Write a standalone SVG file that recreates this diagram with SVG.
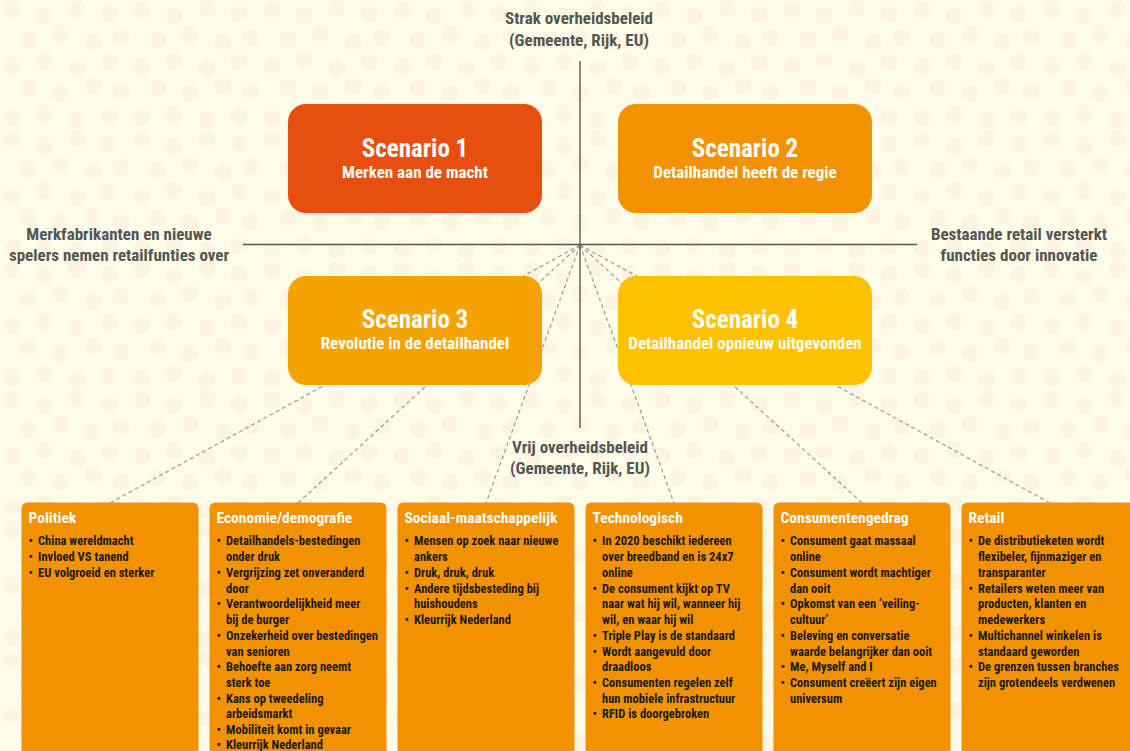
<svg xmlns="http://www.w3.org/2000/svg" width="1130" height="751" viewBox="0 0 1130 751">
<defs>
<pattern id="dots" x="0" y="0" width="130" height="130" patternUnits="userSpaceOnUse">
<rect width="130" height="130" fill="#FFFCEA"/>
<g fill="#FDF4E2">
<circle cx="12" cy="10" r="8.5"/><circle cx="44" cy="16" r="8.5"/><circle cx="77" cy="9" r="8.5"/><circle cx="109" cy="14" r="8.5"/>
<circle cx="28" cy="40" r="8.5"/><circle cx="60" cy="34" r="8.5"/><circle cx="93" cy="42" r="8.5"/><circle cx="121" cy="37" r="8.5"/>
<circle cx="12" cy="66" r="8.5"/><circle cx="44" cy="61" r="8.5"/><circle cx="77" cy="68" r="8.5"/><circle cx="109" cy="62" r="8.5"/>
<circle cx="28" cy="88" r="8.5"/><circle cx="60" cy="93" r="8.5"/><circle cx="93" cy="86" r="8.5"/><circle cx="121" cy="92" r="8.5"/>
<circle cx="12" cy="118" r="8.5"/><circle cx="44" cy="114" r="8.5"/><circle cx="77" cy="120" r="8.5"/><circle cx="109" cy="116" r="8.5"/>
</g>
</pattern>
<style>
text{font-family:"Liberation Sans Narrow","Roboto Condensed","DejaVu Sans Condensed","Liberation Sans",sans-serif;font-weight:bold}
.axis{stroke:#555;stroke-width:1.4;fill:none}
.dash{stroke:#999;stroke-width:1.2;stroke-dasharray:4 3;fill:none}
.lbl{fill:#555;font-size:17px;text-anchor:middle}
.st{fill:#fff;font-size:25px;text-anchor:middle}
.ss{fill:#fff;font-size:17px;text-anchor:middle}
.box{fill:#F39200}
.bt{fill:#fff;font-size:15.5px}
.bl{fill:#1a1a1a;font-size:12.5px}
</style>
</defs>
<rect width="1130" height="751" fill="url(#dots)"/>

<g id="connectors">
<line class="dash" x1="580" y1="245" x2="110" y2="503"/>
<line class="dash" x1="580" y1="245" x2="298" y2="503"/>
<line class="dash" x1="580" y1="245" x2="486" y2="503"/>
<line class="dash" x1="580" y1="245" x2="674" y2="503"/>
<line class="dash" x1="580" y1="245" x2="862" y2="503"/>
<line class="dash" x1="580" y1="245" x2="1050" y2="503"/>
<line class="axis" x1="580" y1="61" x2="580" y2="428"/>
<line class="axis" x1="243" y1="244.5" x2="917" y2="244.5"/>
</g>

<g id="axis-labels">
<text class="lbl" x="579" y="24">Strak overheidsbeleid</text>
<text class="lbl" x="579" y="46">(Gemeente, Rijk, EU)</text>
<text class="lbl" x="580" y="453">Vrij overheidsbeleid</text>
<text class="lbl" x="580" y="474">(Gemeente, Rijk, EU)</text>
<text class="lbl" x="119" y="240">Merkfabrikanten en nieuwe</text>
<text class="lbl" x="119" y="261">spelers nemen retailfunties over</text>
<text class="lbl" x="1019" y="240">Bestaande retail versterkt</text>
<text class="lbl" x="1019" y="261">functies door innovatie</text>
</g>

<g id="scenario1">
<rect x="288" y="104" width="254" height="109" rx="18" fill="#E84E0F"/>
<text class="st" x="415" y="157">Scenario 1</text>
<text class="ss" x="415" y="178">Merken aan de macht</text>
</g>
<g id="scenario2">
<rect x="618" y="104" width="254" height="109" rx="18" fill="#F39200"/>
<text class="st" x="745" y="157">Scenario 2</text>
<text class="ss" x="745" y="178">Detailhandel heeft de regie</text>
</g>
<g id="scenario3">
<rect x="288" y="276" width="254" height="109" rx="18" fill="#F5A300"/>
<text class="st" x="415" y="328">Scenario 3</text>
<text class="ss" x="415" y="349">Revolutie in de detailhandel</text>
</g>
<g id="scenario4">
<rect x="618" y="276" width="254" height="109" rx="18" fill="#FFC200"/>
<text class="st" x="745" y="328">Scenario 4</text>
<text class="ss" x="745" y="349">Detailhandel opnieuw uitgevonden</text>
</g>

<g id="politiek">
<rect class="box" x="21.5" y="502.5" width="177" height="260" rx="6"/>
<text class="bt" x="28.5" y="523">Politiek</text>
<text class="bl"><tspan x="28.5" y="545">•</tspan><tspan x="38" y="545">China wereldmacht</tspan><tspan x="28.5" y="561">•</tspan><tspan x="38" y="561">Invloed VS tanend</tspan><tspan x="28.5" y="576.5">•</tspan><tspan x="38" y="576.5">EU volgroeid en sterker</tspan></text>
</g>

<g id="economie">
<rect class="box" x="209.5" y="502.5" width="177" height="260" rx="6"/>
<text class="bt" x="216.5" y="523">Economie/demografie</text>
<text class="bl">
<tspan x="216.5" y="545">•</tspan><tspan x="226" y="545">Detailhandels-bestedingen</tspan>
<tspan x="226" y="561">onder druk</tspan>
<tspan x="216.5" y="576.5">•</tspan><tspan x="226" y="576.5">Vergrijzing zet onveranderd</tspan>
<tspan x="226" y="592.5">door</tspan>
<tspan x="216.5" y="608">•</tspan><tspan x="226" y="608">Verantwoordelijkheid meer</tspan>
<tspan x="226" y="624">bij de burger</tspan>
<tspan x="216.5" y="639.5">•</tspan><tspan x="226" y="639.5">Onzekerheid over bestedingen</tspan>
<tspan x="226" y="655.5">van senioren</tspan>
<tspan x="216.5" y="671">•</tspan><tspan x="226" y="671">Behoefte aan zorg neemt</tspan>
<tspan x="226" y="687">sterk toe</tspan>
<tspan x="216.5" y="702.5">•</tspan><tspan x="226" y="702.5">Kans op tweedeling</tspan>
<tspan x="226" y="718">arbeidsmarkt</tspan>
<tspan x="216.5" y="733.5">•</tspan><tspan x="226" y="733.5">Mobiliteit komt in gevaar</tspan>
<tspan x="216.5" y="749">•</tspan><tspan x="226" y="749">Kleurrijk Nederland</tspan>
</text>
</g>

<g id="sociaal">
<rect class="box" x="397.5" y="502.5" width="177" height="260" rx="6"/>
<text class="bt" x="404.5" y="523">Sociaal-maatschappelijk</text>
<text class="bl">
<tspan x="404.5" y="545">•</tspan><tspan x="414" y="545">Mensen op zoek naar nieuwe</tspan>
<tspan x="414" y="561">ankers</tspan>
<tspan x="404.5" y="576.5">•</tspan><tspan x="414" y="576.5">Druk, druk, druk</tspan>
<tspan x="404.5" y="592.5">•</tspan><tspan x="414" y="592.5">Andere tijdsbesteding bij</tspan>
<tspan x="414" y="608">huishoudens</tspan>
<tspan x="404.5" y="624">•</tspan><tspan x="414" y="624">Kleurrijk Nederland</tspan>
</text>
</g>

<g id="technologisch">
<rect class="box" x="585.5" y="502.5" width="177" height="260" rx="6"/>
<text class="bt" x="592.5" y="523">Technologisch</text>
<text class="bl">
<tspan x="592.5" y="545">•</tspan><tspan x="602" y="545">In 2020 beschikt iedereen</tspan>
<tspan x="602" y="561">over breedband en is 24x7</tspan>
<tspan x="602" y="576.5">online</tspan>
<tspan x="592.5" y="592.5">•</tspan><tspan x="602" y="592.5">De consument kijkt op TV</tspan>
<tspan x="602" y="608">naar wat hij wil, wanneer hij</tspan>
<tspan x="602" y="624">wil, en waar hij wil</tspan>
<tspan x="592.5" y="639.5">•</tspan><tspan x="602" y="639.5">Triple Play is de standaard</tspan>
<tspan x="592.5" y="655.5">•</tspan><tspan x="602" y="655.5">Wordt aangevuld door</tspan>
<tspan x="602" y="671">draadloos</tspan>
<tspan x="592.5" y="687">•</tspan><tspan x="602" y="687">Consumenten regelen zelf</tspan>
<tspan x="602" y="702.5">hun mobiele infrastructuur</tspan>
<tspan x="592.5" y="718">•</tspan><tspan x="602" y="718">RFID is doorgebroken</tspan>
</text>
</g>

<g id="consumentengedrag">
<rect class="box" x="773.5" y="502.5" width="177" height="260" rx="6"/>
<text class="bt" x="780.5" y="523">Consumentengedrag</text>
<text class="bl">
<tspan x="780.5" y="545">•</tspan><tspan x="790" y="545">Consument gaat massaal</tspan>
<tspan x="790" y="561">online</tspan>
<tspan x="780.5" y="576.5">•</tspan><tspan x="790" y="576.5">Consument wordt machtiger</tspan>
<tspan x="790" y="592.5">dan ooit</tspan>
<tspan x="780.5" y="608">•</tspan><tspan x="790" y="608">Opkomst van een ‘veiling-</tspan>
<tspan x="790" y="624">cultuur’</tspan>
<tspan x="780.5" y="639.5">•</tspan><tspan x="790" y="639.5">Beleving en conversatie</tspan>
<tspan x="790" y="655.5">waarde belangrijker dan ooit</tspan>
<tspan x="780.5" y="671">•</tspan><tspan x="790" y="671">Me, Myself and I</tspan>
<tspan x="780.5" y="687">•</tspan><tspan x="790" y="687">Consument creëert zijn eigen</tspan>
<tspan x="790" y="702.5">universum</tspan>
</text>
</g>

<g id="retail">
<rect class="box" x="961.5" y="502.5" width="177" height="260" rx="6"/>
<text class="bt" x="968.5" y="523">Retail</text>
<text class="bl">
<tspan x="968.5" y="545">•</tspan><tspan x="978" y="545">De distributieketen wordt</tspan>
<tspan x="978" y="561">flexibeler, fijnmaziger en</tspan>
<tspan x="978" y="576.5">transparanter</tspan>
<tspan x="968.5" y="592.5">•</tspan><tspan x="978" y="592.5">Retailers weten meer van</tspan>
<tspan x="978" y="608">producten, klanten en</tspan>
<tspan x="978" y="624">medewerkers</tspan>
<tspan x="968.5" y="639.5">•</tspan><tspan x="978" y="639.5">Multichannel winkelen is</tspan>
<tspan x="978" y="655.5">standaard geworden</tspan>
<tspan x="968.5" y="671">•</tspan><tspan x="978" y="671">De grenzen tussen branches</tspan>
<tspan x="978" y="687">zijn grotendeels verdwenen</tspan>
</text>
</g>
</svg>
